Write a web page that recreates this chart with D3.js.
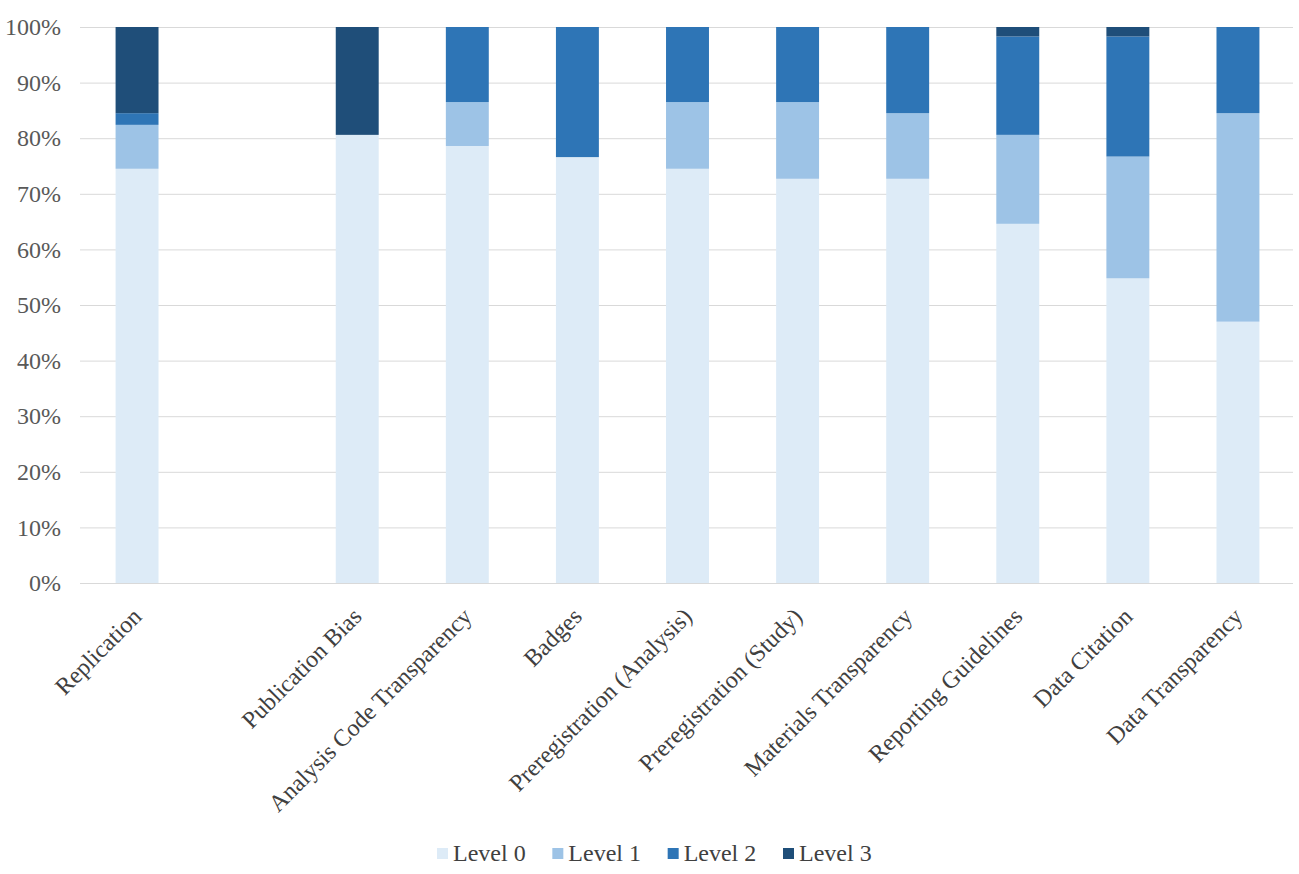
<!DOCTYPE html>
<html>
<head>
<meta charset="utf-8">
<script src="https://cdn.jsdelivr.net/npm/d3@7"></script>
<style>
  body { margin: 0; background: #fff; }
  svg text { font-family: "Liberation Serif", "Times New Roman", serif; fill: #404040; }
</style>
</head>
<body>
<svg id="chart" width="1299" height="874"></svg>
<script>
// categories (one blank slot after Replication, as in the source figure)
var categories = ["Replication", "", "Publication Bias", "Analysis Code Transparency", "Badges",
  "Preregistration (Analysis)", "Preregistration (Study)", "Materials Transparency",
  "Reporting Guidelines", "Data Citation", "Data Transparency"];

var levels = ["Level 0", "Level 1", "Level 2", "Level 3"];

// percentages per level
var level0 = [74.5, 0, 80.6, 78.6, 76.6, 74.5, 72.7, 72.7, 64.6, 54.8, 47.0];
var level1 = [7.9, 0, 0, 7.9, 0, 12.0, 13.8, 11.8, 16.0, 21.9, 37.5];
var level2 = [2.1, 0, 0, 13.5, 23.4, 13.5, 13.5, 15.5, 17.7, 21.6, 15.5];
var level3 = [15.5, 0, 19.4, 0, 0, 0, 0, 0, 1.7, 1.7, 0];

var yTicks = [0, 10, 20, 30, 40, 50, 60, 70, 80, 90, 100];

var COLORS = ["#ddebf7", "#9dc3e6", "#2e75b6", "#1f4e79"];

var margins = { top: 27, right: 6, bottom: 291, left: 80 };
var width = 1299, height = 874;
var chartWidth = width - margins.left - margins.right;
var chartHeight = height - margins.top - margins.bottom;

var rows = categories.map(function(c, i) {
  return { key: i, label: c, "Level 0": level0[i], "Level 1": level1[i], "Level 2": level2[i], "Level 3": level3[i] };
});

var series = d3.stack().keys(levels)(rows);

var xScale = d3.scaleBand()
  .domain(rows.map(d => d.key))
  .range([2, chartWidth])
  .paddingInner(0.61)
  .paddingOuter(0.305);

var yScale = d3.scaleLinear()
  .domain([0, 100])
  .range([chartHeight, 0]);

var svg = d3.select("#chart");
var chartElement = svg.append("g")
  .attr("transform", "translate(" + margins.left + "," + margins.top + ")");

// gridlines
chartElement.selectAll(".grid")
  .data(yTicks)
  .join("line")
  .attr("class", "grid")
  .attr("x1", 0)
  .attr("x2", chartWidth)
  .attr("y1", d => yScale(d) + 0.5)
  .attr("y2", d => yScale(d) + 0.5)
  .style("stroke", "#d9d9d9")
  .style("stroke-width", 1);

// y axis labels
var yAxis = d3.axisLeft(yScale)
  .tickValues(yTicks)
  .tickFormat(d => d + "%")
  .tickSize(0)
  .tickPadding(19);

chartElement.append("g")
  .call(yAxis)
  .call(g => g.select(".domain").remove())
  .selectAll("text")
  .style("font-size", "24px")
  .style("font-family", "\"Liberation Serif\", serif")
  .style("fill", "#595959");

// stacked bars
chartElement.selectAll(".layer")
  .data(series)
  .join("g")
  .attr("class", "layer")
  .style("fill", (d, i) => COLORS[i])
  .selectAll("rect")
  .data(d => d.filter(p => p[1] - p[0] > 0))
  .join("rect")
  .attr("x", d => xScale(d.data.key))
  .attr("width", xScale.bandwidth())
  .attr("y", d => yScale(d[1]))
  .attr("height", d => yScale(d[0]) - yScale(d[1]));

// category labels, rotated
var xAxis = chartElement.append("g")
  .attr("transform", "translate(0," + chartHeight + ")");

xAxis.selectAll("text")
  .data(rows)
  .join("text")
  .attr("transform", d => "translate(" + (xScale(d.key) + xScale.bandwidth() / 2 + 6) + ",35) rotate(-45)")
  .style("text-anchor", "end")
  .style("font-size", "24px")
  .style("fill", "#404040")
  .text(d => d.label);

// legend
var legendItems = [0, 1, 2, 3];
var legendX = d3.scalePoint().domain(legendItems).range([437, 783]);

var legend = svg.append("g").attr("class", "legend");
legend.selectAll("rect")
  .data(legendItems)
  .join("rect")
  .attr("x", d => legendX(d))
  .attr("y", 848)
  .attr("width", 11)
  .attr("height", 11)
  .style("fill", d => COLORS[d]);

legend.selectAll("text")
  .data(legendItems)
  .join("text")
  .attr("x", d => legendX(d) + 16)
  .attr("y", 861)
  .style("font-size", "24px")
  .style("fill", "#404040")
  .text(d => levels[d]);
</script>
</body>
</html>
